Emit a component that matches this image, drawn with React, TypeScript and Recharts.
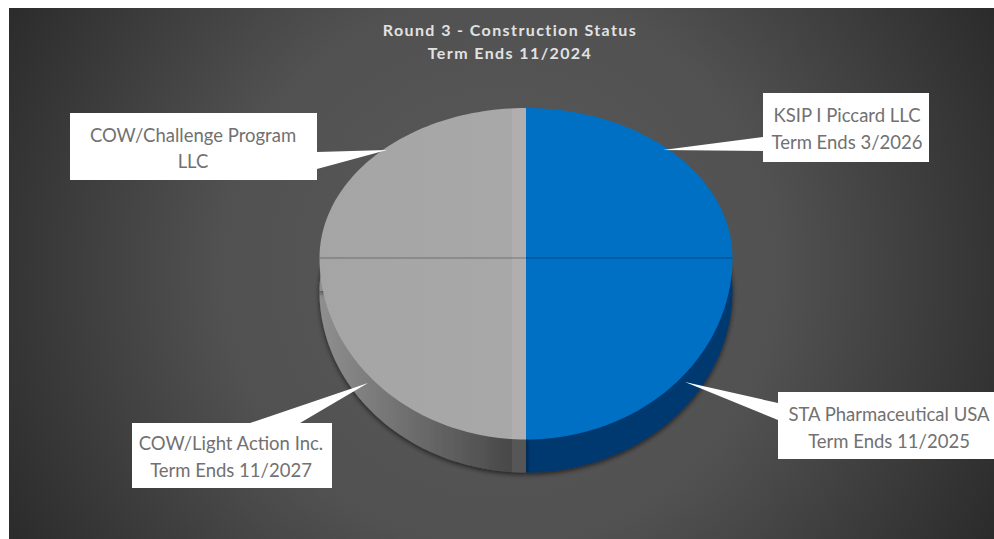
import { Cell, Pie, PieChart } from "recharts";

const titleLines = ["Round 3 - Construction Status", "Term Ends 11/2024"];
const tenants = [
  "KSIP I Piccard LLC",
  "STA Pharmaceutical USA",
  "COW/Light Action Inc.",
  "COW/Challenge Program",
];
const subLines = ["Term Ends 3/2026", "Term Ends 11/2025", "Term Ends 11/2027", "LLC"];
const shares = [25, 25, 25, 25];

const data = tenants.map((name, i) => ({ name, sub: subLines[i], value: shares[i] }));

// layout of the white callouts, same order as tenants
const callouts = [
  { box: [763, 93, 166, 69], wedge: "763,137 763,151 663,150", textX: 847, textY: [115, 142] },
  { box: [778, 392, 216, 67], wedge: "778,403 778,420 685,382", textX: 889, textY: [414, 441] },
  { box: [132, 423, 200, 65], wedge: "250,423 300,423 368,383", textX: 231, textY: [443, 470] },
  { box: [70, 113, 247, 67], wedge: "317,152 317,169 387,150", textX: 193, textY: [135, 161] },
];

const faceFills = ["#0070c4", "#0070c4", "url(#faceGray)", "url(#faceGray)"];
const sideFills = ["#00386f", "#00386f", "url(#sideGray)", "url(#sideGray)"];

const CENTER_X = 526;
const CENTER_Y = 258;
const DEPTH = 33;
const RADIUS = 206.5;
// tilted view: the back half of the disc is flatter than the front half
const SQUASH_BACK = 150 / RADIUS;
const SQUASH_FRONT = 181.5 / RADIUS;

function sectorPath({ cx, cy, outerRadius, startAngle, endAngle }: any) {
  const pts = [`M${cx},${cy}`];
  const steps = 60;
  for (let i = 0; i <= steps; i++) {
    const a = ((startAngle + ((endAngle - startAngle) * i) / steps) * Math.PI) / 180;
    const sin = Math.sin(a);
    const squash = sin > 0 ? SQUASH_BACK : SQUASH_FRONT;
    pts.push(`L${cx + outerRadius * Math.cos(a)},${cy - outerRadius * sin * squash}`);
  }
  return pts.join(" ") + " Z";
}

function FaceSector(props: any) {
  // the only visible seam is the horizontal one
  const seamX = Math.cos((props.startAngle * Math.PI) / 180);
  return (
    <g>
      <path d={sectorPath(props)} fill={props.fill} stroke="none" />
      {Math.abs(seamX) > 0.5 && (
        <line
          x1={props.cx}
          y1={props.cy}
          x2={props.cx + props.outerRadius * seamX}
          y2={props.cy}
          stroke="#000000"
          strokeOpacity={0.22}
          strokeWidth={1.5}
        />
      )}
    </g>
  );
}

function SideSector(props: any) {
  return <path d={sectorPath(props)} fill={props.fill} stroke="none" filter="url(#discShadow)" />;
}

function Callout({ index, name, sub }: any) {
  const c = callouts[index];
  const [x, y, w, h] = c.box;
  const text = {
    x: c.textX,
    textAnchor: "middle" as const,
    dominantBaseline: "central" as const,
    fontFamily: "Lato, 'Open Sans', sans-serif",
    fontSize: 18.5,
    fill: "#717171",
  };
  return (
    <g>
      <polygon points={c.wedge} fill="#ffffff" />
      <rect x={x} y={y} width={w} height={h} fill="#ffffff" />
      <text {...text} y={c.textY[0]}>
        {name}
      </text>
      <text {...text} y={c.textY[1]}>
        {sub}
      </text>
    </g>
  );
}

export default function App() {
  return (
    <div style={{ position: "absolute", left: 0, top: 0, width: 994, height: 539, overflow: "hidden" }}>
      <PieChart width={994} height={539} margin={{ top: 0, right: 0, bottom: 0, left: 0 }}>
        <defs>
          <radialGradient id="slideBg" gradientUnits="userSpaceOnUse" cx={500} cy={270} r={560}>
            <stop offset="0" stopColor="#5a5a5a" />
            <stop offset="0.5" stopColor="#515151" />
            <stop offset="1" stopColor="#2b2b2b" />
          </radialGradient>
          <linearGradient id="faceGray" gradientUnits="userSpaceOnUse" x1={320} y1={0} x2={526} y2={0}>
            <stop offset="0" stopColor="#a5a5a5" />
            <stop offset="0.93" stopColor="#a8a8a8" />
            <stop offset="0.93" stopColor="#b0aeae" />
            <stop offset="1" stopColor="#b0aeae" />
          </linearGradient>
          <linearGradient id="sideGray" gradientUnits="userSpaceOnUse" x1={320} y1={0} x2={526} y2={0}>
            <stop offset="0" stopColor="#8f8f8f" />
            <stop offset="0.93" stopColor="#484848" />
            <stop offset="0.93" stopColor="#575757" />
            <stop offset="1" stopColor="#575757" />
          </linearGradient>
          <filter id="discShadow" x="-10%" y="-10%" width="120%" height="120%">
            <feDropShadow dx={0} dy={2} stdDeviation={2.5} floodColor="#000000" floodOpacity={0.6} />
          </filter>
        </defs>
        <rect x={9} y={8} width={985} height={531} fill="url(#slideBg)" />
        {titleLines.map((line, i) => (
          <text
            key={line}
            x={510}
            y={29 + i * 23}
            textAnchor="middle"
            dominantBaseline="central"
            fontFamily="Lato, 'Open Sans', sans-serif"
            fontSize={16}
            fontWeight={700}
            letterSpacing={1.4}
            fill="#e2e2e2"
          >
            {line}
          </text>
        ))}
        <Pie
          data={data}
          dataKey="value"
          cx={CENTER_X}
          cy={CENTER_Y + DEPTH}
          outerRadius={RADIUS}
          startAngle={90}
          endAngle={-270}
          stroke="none"
          shape={SideSector}
          label={false}
          labelLine={false}
          isAnimationActive={false}
        >
          {data.map((d, i) => (
            <Cell key={d.name} fill={sideFills[i]} />
          ))}
        </Pie>
        <Pie
          data={data}
          dataKey="value"
          cx={CENTER_X}
          cy={CENTER_Y}
          outerRadius={RADIUS}
          startAngle={90}
          endAngle={-270}
          stroke="none"
          shape={FaceSector}
          label={Callout}
          labelLine={false}
          isAnimationActive={false}
        >
          {data.map((d, i) => (
            <Cell key={d.name} fill={faceFills[i]} />
          ))}
        </Pie>
      </PieChart>
    </div>
  );
}
